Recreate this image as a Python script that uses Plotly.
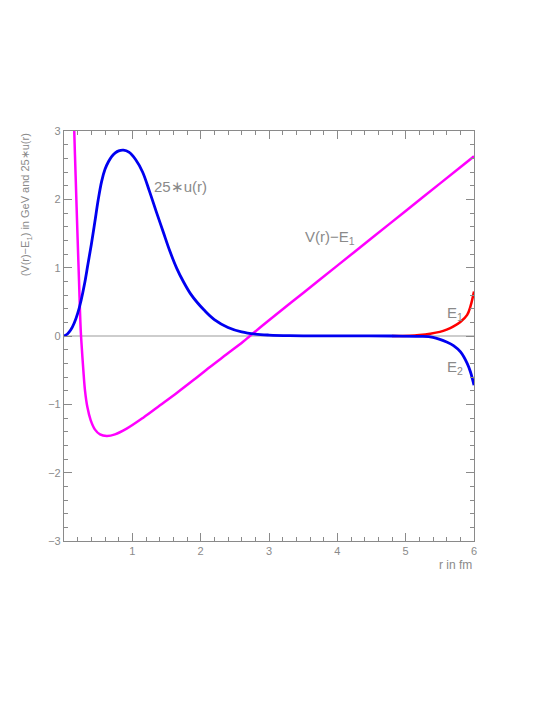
import plotly.graph_objects as go

# V(r) - E1 (GeV)
r_pot = [0.13, 0.15, 0.17, 0.195, 0.22, 0.245, 0.263, 0.283, 0.307, 0.342, 0.39,
         0.454, 0.527, 0.625, 0.746, 0.917, 1.16, 1.405, 1.65, 1.89, 2.136, 2.38,
         2.62, 2.72, 3.0, 3.5, 4.0, 4.5, 5.0, 5.5, 6.0]
v_pot = [3.9, 3.0, 2.35, 1.55, 0.8, 0.08, -0.21, -0.50, -0.795, -1.04, -1.23,
         -1.37, -1.44, -1.463, -1.44, -1.356, -1.195, -1.015, -0.834, -0.649, -0.454, -0.268,
         -0.085, 0.0, 0.23, 0.63, 1.03, 1.43, 1.83, 2.23, 2.63]

# 25*u(r) for E2 (blue, full range)
r_u2 = [0, 0.05, 0.1, 0.15, 0.2, 0.25, 0.3, 0.35, 0.4, 0.45, 0.5, 0.55, 0.6, 0.65,
        0.7, 0.75, 0.8, 0.87, 0.95, 1.05, 1.15, 1.25, 1.35, 1.45, 1.55, 1.65, 1.75,
        1.85, 1.95, 2.05, 2.2, 2.4, 2.6, 2.8, 3.0, 3.3, 3.7, 4.2, 4.8, 5.2, 5.4, 5.6,
        5.7, 5.8, 5.9, 5.95, 6.0]
u2 = [0, 0.03, 0.09, 0.19, 0.33, 0.52, 0.76, 1.05, 1.34, 1.66, 1.99, 2.26, 2.44, 2.55,
      2.63, 2.68, 2.71, 2.72, 2.69, 2.58, 2.40, 2.12, 1.82, 1.53, 1.24, 0.99, 0.79,
      0.62, 0.49, 0.38, 0.24, 0.125, 0.06, 0.028, 0.014, 0.005, 0.002, 0.001, 0.0,
      -0.005, -0.02, -0.088, -0.14, -0.23, -0.40, -0.53, -0.72]

# 25*u(r) for E1 (red), only the tail where it leaves the E2 curve
r_u1 = [4.8, 5.06, 5.2, 5.36, 5.5, 5.6, 5.7, 5.8, 5.9, 5.95, 6.0]
u1 = [0.0, 0.005, 0.015, 0.034, 0.06, 0.093, 0.14, 0.205, 0.31, 0.44, 0.65]

x_ticks = [1, 2, 3, 4, 5, 6]
y_ticks = [-3, -2, -1, 0, 1, 2, 3]

grey = "#8a8a8a"
font = "Liberation Sans, Arial, sans-serif"

fig = go.Figure()
fig.add_trace(go.Scatter(x=[0, 6], y=[0, 0], mode="lines",
                         line=dict(color="#bdbdbd", width=1.5), hoverinfo="skip"))
fig.add_trace(go.Scatter(x=r_pot, y=v_pot, mode="lines", line_shape="spline",
                         line=dict(color="#ff00ff", width=2.5)))
fig.add_trace(go.Scatter(x=r_u1, y=u1, mode="lines", line_shape="spline",
                         line=dict(color="#ff0000", width=2.5)))
fig.add_trace(go.Scatter(x=r_u2, y=u2, mode="lines", line_shape="spline",
                         line=dict(color="#0000f0", width=2.8)))

axis = dict(showgrid=False, zeroline=False, showline=True, linecolor=grey,
            linewidth=1.2, mirror="ticks", ticks="inside", tickcolor=grey,
            ticklen=8, tickwidth=1, tickfont=dict(family=font, size=11, color=grey))
fig.update_xaxes(range=[0, 6], tickvals=x_ticks, ticktext=[str(t) for t in x_ticks],
                 minor=dict(dtick=0.2, tick0=0, ticks="inside", ticklen=4,
                            tickcolor=grey, tickwidth=1), **axis)
fig.update_yaxes(range=[-3, 3], tickvals=y_ticks,
                 ticktext=[str(t).replace("-", "\u2212") for t in y_ticks],
                 minor=dict(dtick=0.2, tick0=0, ticks="inside", ticklen=4,
                            tickcolor=grey, tickwidth=1), **axis)

label = dict(family=font, size=15, color=grey)
fig.add_annotation(x=1.29, y=2.19, text="25\u2217u(r)", showarrow=False,
                   xanchor="left", yanchor="middle", font=label)
fig.add_annotation(x=3.5, y=1.44, text="V(r)\u2212E<sub>1</sub>", showarrow=False,
                   xanchor="left", yanchor="middle", font=label)
fig.add_annotation(x=5.57, y=0.33, text="E<sub>1</sub>", showarrow=False,
                   xanchor="left", yanchor="middle", font=label)
fig.add_annotation(x=5.57, y=-0.46, text="E<sub>2</sub>", showarrow=False,
                   xanchor="left", yanchor="middle", font=label)
fig.add_annotation(xref="paper", x=-0.093, y=3, yanchor="top", xanchor="center",
                   text="(V(r)\u2212E<sub>1</sub>) in GeV and 25\u2217u(r)",
                   textangle=-90, showarrow=False,
                   font=dict(family=font, size=11, color=grey))
fig.add_annotation(x=6, yref="paper", y=-0.058, xanchor="right", yanchor="middle",
                   text="r in fm", showarrow=False,
                   font=dict(family=font, size=12, color=grey))

# page body has an 8px margin, so the figure is shrunk by that much
fig.update_layout(width=546, height=709, showlegend=False,
                  margin=dict(l=56, r=80, t=123, b=176),
                  paper_bgcolor="white", plot_bgcolor="white")

fig.write_html("out.html")
